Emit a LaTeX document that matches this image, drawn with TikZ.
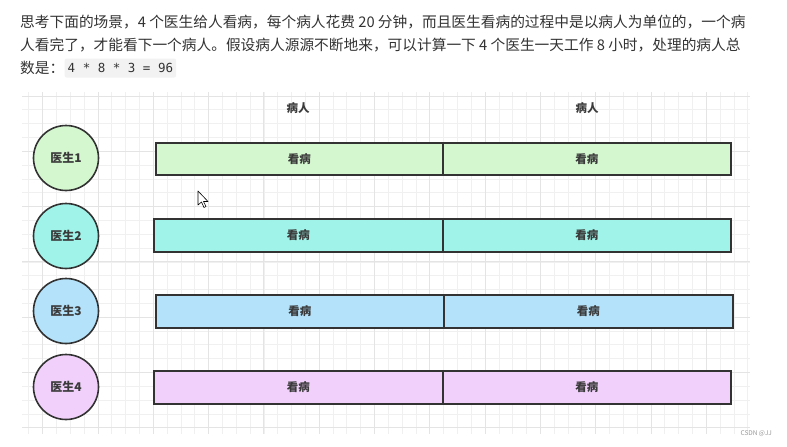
\documentclass[tikz,border=0pt]{standalone}
\usepackage{fontspec}
\setmainfont{Noto Sans CJK SC}
\newfontfamily\codefont{DejaVu Sans Mono}
\definecolor{txt}{HTML}{333333}
\definecolor{lbl}{HTML}{3A3A3A}
\definecolor{gminor}{HTML}{F0F0F0}
\definecolor{gmajor}{HTML}{E4E4E4}
\definecolor{fa}{HTML}{D4F7CF}
\definecolor{fb}{HTML}{9FF3E8}
\definecolor{fc}{HTML}{B3E2FA}
\definecolor{fd}{HTML}{F1D1FB}
\definecolor{codebg}{HTML}{F2F2F2}
\tikzset{
  bar/.style={draw=txt, line width=1.7pt, minimum height=32pt, inner sep=0pt, anchor=north west, text=lbl, font=\fontsize{11.5}{13}\selectfont\bfseries},
  doc/.style={circle, draw=txt, line width=1.6pt, minimum size=65pt, inner sep=0pt, text=lbl, font=\fontsize{12}{13}\selectfont\bfseries},
  head/.style={text=lbl, font=\fontsize{11.5}{13}\selectfont\bfseries, inner sep=0pt},
  para/.style={anchor=west, inner sep=0pt, text=txt, font=\fontsize{14.7}{17}\selectfont}
}
\begin{document}
\begin{tikzpicture}[x=1pt,y=-1pt]
\useasboundingbox (0,0) rectangle (787,447);
\fill[white] (0,0) rectangle (787,447);
% grid
\begin{scope}
\clip (22,92) rectangle (750,434);
\foreach \i in {-2,...,52} {
  \pgfmathsetmacro{\xx}{42.7+13.825*\i}
  \draw[gminor, line width=0.8pt] (\xx,92) -- (\xx,434);
}
\foreach \i in {-1,...,25} {
  \pgfmathsetmacro{\yy}{96+13.825*\i}
  \draw[gminor, line width=0.8pt] (22,\yy) -- (750,\yy);
}
\foreach \i in {0,...,13} {
  \pgfmathsetmacro{\xx}{42.7+55.3*\i}
  \draw[gmajor, line width=0.9pt] (\xx,92) -- (\xx,434);
}
\foreach \i in {0,...,6} {
  \pgfmathsetmacro{\yy}{96+55.3*\i}
  \draw[gmajor, line width=0.9pt] (22,\yy) -- (750,\yy);
}
\end{scope}
% paragraph
\node[para] (p1) at (20,22) {思考下面的场景，4 个医生给人看病，每个病人花费 20 分钟，而且医生看病的过程中是以病人为单位的，一个病};
\node[para] (p2) at (20,45) {人看完了，才能看下一个病人。假设病人源源不断地来，可以计算一下 4 个医生一天工作 8 小时，处理的病人总};
\node[para] (p3) at (20,68) {数是：};
\node[anchor=west, fill=codebg, rounded corners=2pt, inner xsep=3pt, minimum height=19pt, text=txt, font=\codefont\fontsize{12.5}{14}\selectfont] (code) at (p3.east) {4 * 8 * 3 = 96};
% headers
\node[head] (h1) at (298,108) {病人};
\node[head] (h2) at (587,108) {病人};
% doctors
\node[doc, fill=fa] (c1) at (66,158) {医生1};
\node[doc, fill=fb] (c2) at (66,236) {医生2};
\node[doc, fill=fc] (c3) at (66,311) {医生3};
\node[doc, fill=fd] (c4) at (66,387) {医生4};
% bars
\node[bar, fill=fa, minimum width=287pt] (r1a) at (155,142) {看病};
\node[bar, fill=fa, minimum width=288pt] (r1b) at (442,142) {看病};
\node[bar, fill=fb, minimum width=289pt, minimum height=33pt] (r2a) at (153,218) {看病};
\node[bar, fill=fb, minimum width=288pt, minimum height=33pt] (r2b) at (442,218) {看病};
\node[bar, fill=fc, minimum width=288pt, minimum height=33pt] (r3a) at (155,294) {看病};
\node[bar, fill=fc, minimum width=289pt, minimum height=33pt] (r3b) at (443,294) {看病};
\node[bar, fill=fd, minimum width=289pt, minimum height=33pt] (r4a) at (153,370) {看病};
\node[bar, fill=fd, minimum width=288pt, minimum height=33pt] (r4b) at (442,370) {看病};
% cursor
\draw[black, fill=white, line width=0.6pt, line join=round] (198,191) -- (198,205) -- (201.5,202) -- (204,207.5) -- (206,206.5) -- (203.5,201.5) -- (208,201.5) -- cycle;
% watermark
\node[anchor=east, inner sep=0pt, text=black!40, font=\fontsize{6.5}{7}\selectfont] (wm) at (772,434) {CSDN @JJ};
\end{tikzpicture}
\end{document}
